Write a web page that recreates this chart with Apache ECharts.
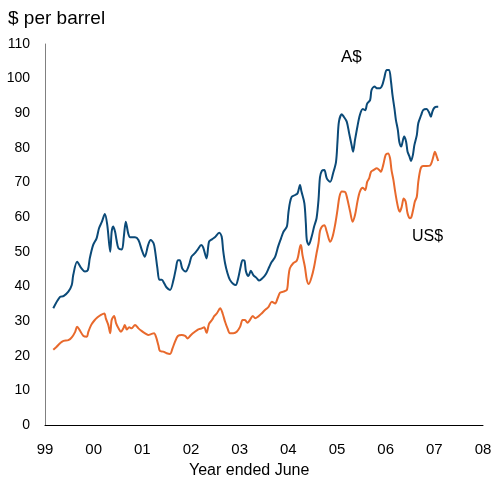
<!DOCTYPE html>
<html>
<head>
<meta charset="utf-8">
<script src="https://cdn.jsdelivr.net/npm/echarts@6/dist/echarts.min.js"></script>
<style>
    html, body { margin: 0; padding: 0; background: #fff; }
    #chart { width: 496px; height: 477px; }
</style>
</head>
<body>
<div id="chart"></div>
<script>
// year (decimal), value in $ per barrel
var audYears = [1999.17, 1999.31, 1999.38, 1999.48, 1999.55, 1999.58, 1999.66, 1999.75, 1999.82, 1999.88,
    1999.92, 1999.99, 2000.06, 2000.11, 2000.17, 2000.23, 2000.28, 2000.34, 2000.37, 2000.40,
    2000.44, 2000.47, 2000.51, 2000.58, 2000.62, 2000.66, 2000.71, 2000.75, 2000.85, 2000.92,
    2000.99, 2001.05, 2001.12, 2001.17, 2001.23, 2001.26, 2001.31, 2001.35, 2001.40, 2001.45,
    2001.50, 2001.57, 2001.64, 2001.69, 2001.73, 2001.77, 2001.82, 2001.89, 2001.96, 2002.01,
    2002.08, 2002.14, 2002.21, 2002.25, 2002.32, 2002.37, 2002.43, 2002.49, 2002.58, 2002.63,
    2002.66, 2002.70, 2002.75, 2002.80, 2002.87, 2002.92, 2002.97, 2003.02, 2003.06, 2003.10,
    2003.13, 2003.18, 2003.23, 2003.28, 2003.35, 2003.40, 2003.47, 2003.54, 2003.61, 2003.66,
    2003.73, 2003.79, 2003.85, 2003.90, 2003.97, 2004.00, 2004.03, 2004.07, 2004.14, 2004.19,
    2004.24, 2004.27, 2004.33, 2004.36, 2004.38, 2004.42, 2004.48, 2004.53, 2004.58, 2004.62,
    2004.65, 2004.69, 2004.74, 2004.79, 2004.86, 2004.92, 2004.98, 2005.01, 2005.04, 2005.10,
    2005.14, 2005.20, 2005.25, 2005.30, 2005.33, 2005.37, 2005.42, 2005.47, 2005.53, 2005.58,
    2005.62, 2005.68, 2005.71, 2005.77, 2005.83, 2005.88, 2005.93, 2005.97, 2006.02, 2006.07,
    2006.11, 2006.14, 2006.18, 2006.21, 2006.25, 2006.28, 2006.32, 2006.34, 2006.38, 2006.42,
    2006.45, 2006.49, 2006.52, 2006.56, 2006.59, 2006.64, 2006.67, 2006.73, 2006.77, 2006.84,
    2006.89, 2006.93, 2006.96, 2007.00, 2007.05, 2007.08];
var audValues = [33.7, 37.0, 37.2, 38.5, 40.4, 43.3, 47.1, 45.2, 44.3, 44.7,
    48.1, 52.0, 53.9, 56.8, 58.7, 60.9, 57.7, 50.0, 55.8, 57.3,
    55.8, 53.4, 51.0, 50.7, 54.4, 58.7, 55.3, 54.2, 54.2, 53.4,
    50.5, 48.6, 52.0, 53.4, 52.5, 50.5, 45.2, 41.9, 41.9, 40.9,
    39.7, 39.0, 41.9, 45.2, 47.6, 47.6, 45.2, 44.3, 46.2, 48.6,
    49.6, 50.7, 52.0, 51.3, 48.1, 52.9, 53.6, 54.2, 55.5, 54.4,
    50.5, 46.7, 43.8, 41.9, 40.7, 40.4, 42.4, 45.7, 47.6, 47.4,
    44.3, 43.0, 44.5, 43.3, 42.4, 41.7, 42.4, 43.6, 45.7, 47.1,
    48.6, 51.5, 53.9, 55.8, 57.3, 61.1, 64.0, 65.9, 66.4, 66.9,
    69.3, 67.4, 64.0, 58.2, 53.4, 52.0, 54.4, 57.3, 59.7, 65.0,
    71.5, 73.4, 73.6, 71.2, 70.2, 72.7, 76.0, 81.8, 87.6, 89.7,
    89.0, 87.6, 84.2, 80.8, 78.9, 82.3, 86.2, 89.5, 91.2, 90.9,
    92.8, 93.8, 96.7, 97.7, 97.2, 97.2, 98.1, 100.1, 102.5, 102.5,
    99.1, 95.3, 91.4, 88.1, 85.2, 81.8, 80.4, 81.3, 83.3, 81.8,
    78.9, 77.5, 76.2, 78.0, 80.8, 83.7, 87.1, 89.5, 90.9, 91.2,
    90.3, 89.0, 90.5, 91.6, 91.9, 91.9];

var usdYears = [1999.17, 1999.24, 1999.31, 1999.38, 1999.48, 1999.55, 1999.62, 1999.66, 1999.72, 1999.79,
    1999.86, 1999.89, 1999.95, 2000.01, 2000.08, 2000.15, 2000.22, 2000.25, 2000.30, 2000.34,
    2000.37, 2000.42, 2000.46, 2000.51, 2000.56, 2000.61, 2000.64, 2000.68, 2000.73, 2000.78,
    2000.85, 2000.92, 2000.99, 2001.05, 2001.12, 2001.19, 2001.24, 2001.28, 2001.33, 2001.36,
    2001.43, 2001.50, 2001.57, 2001.62, 2001.67, 2001.73, 2001.81, 2001.88, 2001.93, 2002.00,
    2002.08, 2002.15, 2002.22, 2002.27, 2002.32, 2002.37, 2002.43, 2002.48, 2002.53, 2002.60,
    2002.65, 2002.70, 2002.75, 2002.80, 2002.87, 2002.94, 2003.01, 2003.06, 2003.11, 2003.16,
    2003.21, 2003.27, 2003.32, 2003.38, 2003.45, 2003.52, 2003.59, 2003.66, 2003.73, 2003.78,
    2003.83, 2003.90, 2003.97, 2004.00, 2004.03, 2004.10, 2004.17, 2004.20, 2004.24, 2004.26,
    2004.29, 2004.34, 2004.38, 2004.42, 2004.48, 2004.53, 2004.58, 2004.62, 2004.65, 2004.69,
    2004.74, 2004.79, 2004.86, 2004.91, 2004.96, 2005.01, 2005.05, 2005.10, 2005.17, 2005.21,
    2005.27, 2005.32, 2005.37, 2005.42, 2005.47, 2005.53, 2005.58, 2005.62, 2005.66, 2005.70,
    2005.75, 2005.82, 2005.87, 2005.90, 2005.95, 2006.00, 2006.05, 2006.09, 2006.12, 2006.16,
    2006.19, 2006.23, 2006.26, 2006.29, 2006.33, 2006.37, 2006.41, 2006.45, 2006.50, 2006.53,
    2006.57, 2006.60, 2006.64, 2006.67, 2006.72, 2006.77, 2006.84, 2006.91, 2006.95, 2006.99,
    2007.01, 2007.05, 2007.08];
var usdValues = [21.7, 22.6, 23.6, 24.3, 24.5, 25.3, 26.9, 28.4, 27.2, 25.7,
    25.5, 26.9, 28.9, 30.1, 31.1, 31.8, 32.2, 30.8, 28.9, 26.5,
    30.3, 31.5, 29.4, 27.9, 26.9, 27.9, 28.9, 27.6, 28.2, 27.9,
    28.9, 27.9, 27.1, 26.5, 26.0, 26.3, 26.5, 25.5, 23.0, 21.4,
    21.2, 20.7, 20.5, 22.1, 24.0, 25.7, 26.0, 25.7, 25.0, 26.0,
    26.9, 27.6, 27.9, 28.2, 26.6, 29.2, 30.3, 31.5, 32.2, 33.7,
    32.2, 29.8, 27.9, 26.5, 26.5, 26.9, 28.4, 30.3, 30.3, 29.5,
    30.3, 31.5, 30.8, 31.3, 32.2, 33.2, 34.0, 35.6, 35.1, 36.6,
    38.2, 38.5, 39.0, 42.4, 45.2, 46.7, 47.4, 48.6, 51.5, 52.0,
    49.1, 45.7, 41.9, 40.7, 42.8, 45.7, 49.6, 52.5, 56.0, 57.3,
    57.7, 55.8, 52.9, 54.4, 57.7, 62.1, 65.9, 67.4, 67.2, 65.4,
    61.6, 58.7, 60.6, 64.5, 67.4, 68.5, 67.8, 70.2, 71.2, 73.1,
    73.6, 74.1, 73.6, 73.1, 75.1, 78.0, 78.4, 77.0, 73.6, 70.7,
    67.8, 64.5, 62.5, 61.6, 63.0, 65.4, 64.5, 61.1, 59.7, 60.1,
    62.5, 64.5, 65.9, 70.2, 74.1, 74.8, 74.8, 74.9, 76.0, 78.0,
    78.9, 77.5, 76.2];

var yearTicks = ['99', '00', '01', '02', '03', '04', '05', '06', '07', '08'];

function pairs(xs, ys) {
    var out = [];
    for (var i = 0; i < xs.length; i++) {
        out.push([xs[i], ys[i]]);
    }
    return out;
}

var font = 'Liberation Sans, Arial, sans-serif';
var chart = echarts.init(document.getElementById('chart'));

chart.setOption({
    animation: false,
    grid: { left: 45, right: 13, top: 44, bottom: 52 },
    title: {
        text: '$ per barrel',
        left: 8,
        top: 9,
        padding: 0,
        textStyle: { fontFamily: font, fontSize: 19, fontWeight: 'normal', color: '#000' }
    },
    xAxis: {
        type: 'value',
        min: 1999,
        max: 2008,
        interval: 1,
        axisLine: { lineStyle: { color: '#000', width: 1 } },
        axisTick: { show: false },
        splitLine: { show: false },
        axisLabel: {
            margin: 17,
            fontFamily: font,
            fontSize: 15,
            color: '#000',
            formatter: function(v) { return yearTicks[Math.round(v - 1999)]; }
        }
    },
    yAxis: {
        type: 'value',
        min: 0,
        max: 110,
        interval: 10,
        axisLine: { show: true, lineStyle: { color: '#808080', width: 1 } },
        axisTick: { show: false },
        splitLine: { show: false },
        axisLabel: { margin: 15, fontFamily: font, fontSize: 14, color: '#000' }
    },
    graphic: [
        { type: 'text', left: 189, top: 463,
          style: { text: 'Year ended June', font: '16px ' + font, fill: '#000' } },
        { type: 'text', left: 341, top: 49,
          style: { text: 'A$', font: '17px ' + font, fill: '#000' } },
        { type: 'text', left: 412, top: 229,
          style: { text: 'US$', font: '16px ' + font, fill: '#000' } }
    ],
    series: [
        {
            name: 'A$',
            type: 'line',
            data: pairs(audYears, audValues),
            showSymbol: false,
            smooth: 0.3,
            lineStyle: { color: '#0b4a78', width: 2 }
        },
        {
            name: 'US$',
            type: 'line',
            data: pairs(usdYears, usdValues),
            showSymbol: false,
            smooth: 0.3,
            lineStyle: { color: '#e8692c', width: 2 }
        }
    ]
});
</script>
</body>
</html>
